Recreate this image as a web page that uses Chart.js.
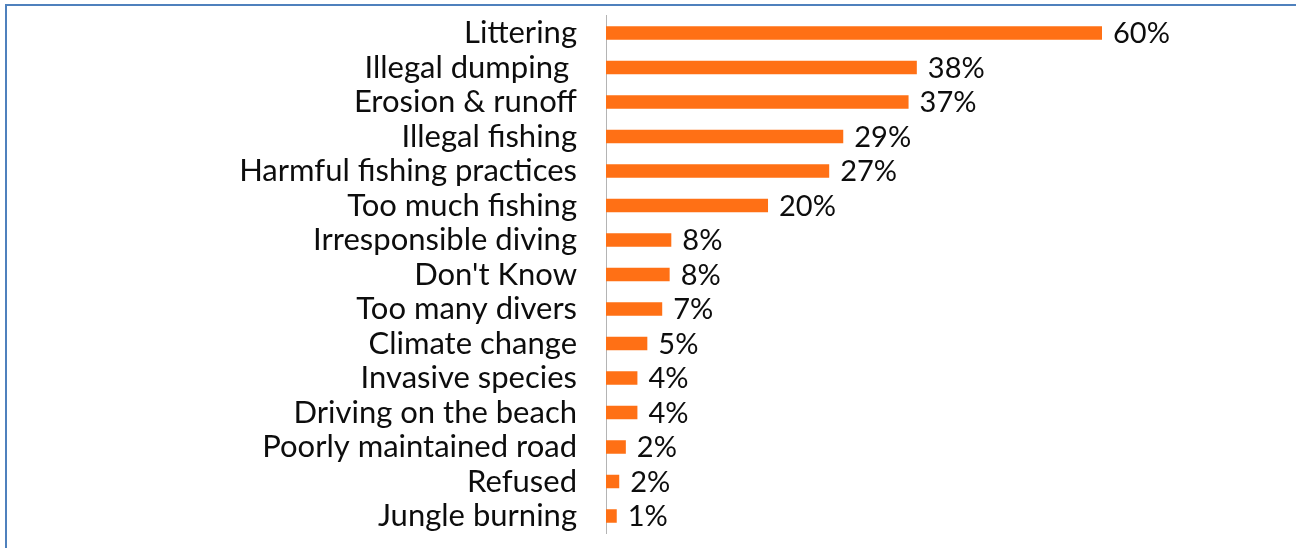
<!DOCTYPE html>
<html>
<head>
<meta charset="utf-8">
<script src="https://cdn.jsdelivr.net/npm/chart.js@4"></script>
<style>
    html, body { margin: 0; padding: 0; background: #fff; }
    #wrap { position: relative; width: 1296px; height: 548px; overflow: hidden; }
    #frame {
        position: absolute; left: 5px; top: 4px; right: 0; bottom: 0;
        border-left: 2px solid #4f81bd; border-top: 2px solid #4f81bd;
    }
    canvas { position: absolute; left: 0; top: 0; }
</style>
</head>
<body>
<div id="wrap">
    <div id="frame"></div>
    <canvas id="chart" width="1296" height="548"></canvas>
</div>
<script>
// ============================================================
// Data
// ============================================================

const categories = [
    'Littering',
    'Illegal dumping ',
    'Erosion & runoff',
    'Illegal fishing',
    'Harmful fishing practices',
    'Too much fishing',
    'Irresponsible diving',
    "Don't Know",
    'Too many divers',
    'Climate change',
    'Invasive species',
    'Driving on the beach',
    'Poorly maintained road',
    'Refused',
    'Jungle burning'
];

// bar lengths, percent
const shares = [60, 37.6, 36.6, 28.7, 27, 19.6, 7.9, 7.7, 6.8, 5, 3.8, 3.8, 2.4, 1.6, 1.3];

// printed value labels
const shareLabels = ['60%', '38%', '37%', '29%', '27%', '20%', '8%', '8%', '7%', '5%', '4%', '4%', '2%', '2%', '1%'];

const AXIS_MAX = 75;

// ============================================================
// Chart
// ============================================================

const FONT = 'Lato, "Open Sans", sans-serif';
const BAR_COLOR = '#ff7015';
const TEXT_COLOR = '#0d0d0d';

const valueLabels = {
    id: 'valueLabels',
    afterDatasetsDraw(chart) {
        const ctx = chart.ctx;
        const meta = chart.getDatasetMeta(0);
        ctx.save();
        ctx.font = '29px ' + FONT;
        ctx.fillStyle = TEXT_COLOR;
        ctx.textAlign = 'left';
        ctx.textBaseline = 'middle';
        meta.data.forEach(function(bar, i) {
            ctx.fillText(shareLabels[i], bar.x + 11, bar.y + 1);
        });
        ctx.restore();
    }
};

new Chart(document.getElementById('chart'), {
    type: 'bar',
    data: {
        labels: categories,
        datasets: [{
            data: shares,
            backgroundColor: BAR_COLOR,
            borderWidth: 0,
            categoryPercentage: 1,
            barPercentage: 0.39
        }]
    },
    options: {
        indexAxis: 'y',
        responsive: false,
        devicePixelRatio: 1,
        animation: false,
        layout: { padding: { left: 0, right: 70, top: 15.75, bottom: 14.75 } },
        plugins: {
            legend: { display: false },
            tooltip: { enabled: false }
        },
        scales: {
            x: {
                display: false,
                min: 0,
                max: AXIS_MAX
            },
            y: {
                afterFit: function(scale) {
                    scale.width = 606;
                    scale.paddingTop = 0;
                    scale.paddingBottom = 0;
                },
                grid: { display: false, drawTicks: false },
                border: { display: true, color: '#b4b4b4', width: 1 },
                ticks: {
                    autoSkip: false,
                    color: TEXT_COLOR,
                    padding: 29,
                    font: { family: FONT, size: 31 }
                }
            }
        }
    },
    plugins: [valueLabels]
});
</script>
</body>
</html>
